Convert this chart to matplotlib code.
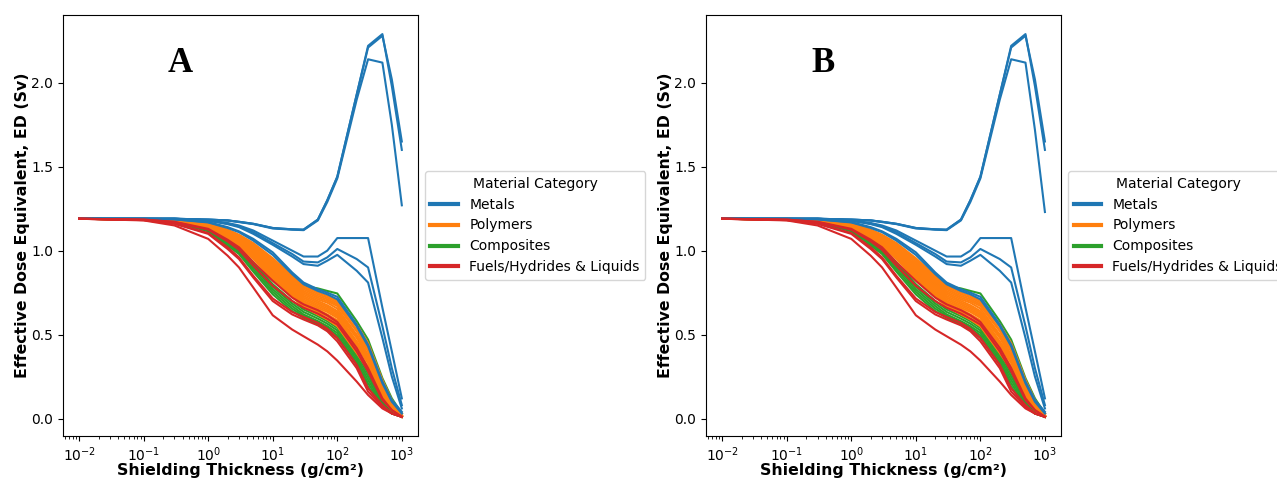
import matplotlib
matplotlib.use("Agg")
import matplotlib.pyplot as plt
from matplotlib.lines import Line2D

# shielding thickness grid (g/cm2)
thickness = [0.01, 0.1, 0.3, 1, 2, 3, 5, 10, 20, 30, 50, 70, 100, 200, 300, 500, 700, 1000]

# effective dose (Sv) per material
metals = [
    [1.19, 1.19, 1.19, 1.185, 1.18, 1.172, 1.16, 1.135, 1.127, 1.125, 1.185, 1.30, 1.44, 1.93, 2.21, 2.28, 2.02, 1.65],
    [1.19, 1.19, 1.19, 1.185, 1.18, 1.172, 1.16, 1.135, 1.127, 1.125, 1.185, 1.30, 1.44, 1.93, 2.22, 2.29, 1.98, 1.60],
    [1.19, 1.19, 1.19, 1.185, 1.18, 1.17, 1.158, 1.132, 1.125, 1.122, 1.18, 1.29, 1.43, 1.90, 2.14, 2.12, 1.75, 1.27],
    [1.19, 1.19, 1.19, 1.18, 1.165, 1.15, 1.12, 1.06, 1.0, 0.965, 0.965, 1.0, 1.075, 1.075, 1.075, 0.66, 0.40, 0.12],
    [1.19, 1.19, 1.19, 1.18, 1.16, 1.145, 1.11, 1.045, 0.98, 0.935, 0.93, 0.96, 1.01, 0.95, 0.90, 0.55, 0.30, 0.08],
    [1.19, 1.19, 1.19, 1.178, 1.158, 1.14, 1.10, 1.035, 0.965, 0.92, 0.91, 0.94, 0.975, 0.88, 0.81, 0.48, 0.25, 0.06],
    [1.19, 1.19, 1.187, 1.17, 1.14, 1.115, 1.07, 0.99, 0.87, 0.81, 0.77, 0.75, 0.725, 0.56, 0.44, 0.22, 0.11, 0.04],
    [1.19, 1.19, 1.186, 1.168, 1.135, 1.11, 1.06, 0.975, 0.86, 0.80, 0.76, 0.74, 0.71, 0.55, 0.43, 0.21, 0.10, 0.03],
]
# panel B differs only in the third metal curve after the peak
metal_peak_b = [1.19, 1.19, 1.19, 1.185, 1.18, 1.17, 1.158, 1.132, 1.125, 1.122, 1.18, 1.29, 1.43, 1.90, 2.14, 2.12, 1.72, 1.23]

polymers = [
    [1.19, 1.188, 1.185, 1.165, 1.125, 1.095, 1.045, 0.955, 0.85, 0.79, 0.75, 0.73, 0.70, 0.56, 0.45, 0.23, 0.11, 0.03],
    [1.19, 1.188, 1.184, 1.162, 1.12, 1.09, 1.035, 0.945, 0.84, 0.78, 0.74, 0.72, 0.69, 0.55, 0.44, 0.22, 0.10, 0.03],
    [1.19, 1.188, 1.183, 1.16, 1.115, 1.085, 1.03, 0.935, 0.83, 0.77, 0.73, 0.71, 0.68, 0.53, 0.42, 0.21, 0.10, 0.02],
    [1.19, 1.187, 1.182, 1.158, 1.11, 1.08, 1.02, 0.925, 0.82, 0.76, 0.72, 0.70, 0.67, 0.52, 0.41, 0.20, 0.09, 0.02],
    [1.19, 1.187, 1.181, 1.155, 1.105, 1.075, 1.01, 0.915, 0.81, 0.75, 0.71, 0.69, 0.655, 0.50, 0.40, 0.19, 0.09, 0.02],
    [1.19, 1.187, 1.18, 1.153, 1.10, 1.07, 1.005, 0.905, 0.80, 0.74, 0.70, 0.675, 0.64, 0.49, 0.38, 0.18, 0.08, 0.02],
    [1.19, 1.186, 1.179, 1.15, 1.095, 1.065, 0.995, 0.895, 0.79, 0.73, 0.69, 0.665, 0.63, 0.48, 0.37, 0.17, 0.08, 0.02],
    [1.19, 1.186, 1.178, 1.148, 1.09, 1.06, 0.99, 0.885, 0.78, 0.72, 0.68, 0.655, 0.62, 0.46, 0.36, 0.16, 0.07, 0.015],
    [1.19, 1.186, 1.177, 1.146, 1.088, 1.055, 0.98, 0.875, 0.77, 0.71, 0.67, 0.645, 0.61, 0.45, 0.35, 0.16, 0.07, 0.015],
    [1.19, 1.185, 1.176, 1.144, 1.085, 1.05, 0.975, 0.865, 0.76, 0.70, 0.66, 0.635, 0.60, 0.44, 0.34, 0.15, 0.07, 0.015],
    [1.19, 1.185, 1.175, 1.142, 1.08, 1.045, 0.97, 0.855, 0.75, 0.69, 0.65, 0.62, 0.585, 0.43, 0.33, 0.14, 0.06, 0.01],
    [1.19, 1.185, 1.174, 1.14, 1.078, 1.04, 0.96, 0.845, 0.74, 0.68, 0.635, 0.61, 0.57, 0.41, 0.31, 0.13, 0.06, 0.01],
    [1.19, 1.185, 1.173, 1.138, 1.075, 1.035, 0.955, 0.835, 0.73, 0.67, 0.625, 0.595, 0.555, 0.40, 0.30, 0.12, 0.05, 0.01],
    [1.19, 1.185, 1.172, 1.136, 1.07, 1.03, 0.95, 0.83, 0.725, 0.665, 0.62, 0.59, 0.55, 0.39, 0.29, 0.12, 0.05, 0.01],
]

composites = [
    [1.19, 1.187, 1.18, 1.15, 1.09, 1.05, 0.98, 0.87, 0.80, 0.79, 0.775, 0.76, 0.745, 0.58, 0.47, 0.24, 0.12, 0.03],
    [1.19, 1.186, 1.176, 1.135, 1.065, 1.02, 0.93, 0.80, 0.70, 0.65, 0.61, 0.58, 0.54, 0.38, 0.27, 0.11, 0.05, 0.01],
    [1.19, 1.186, 1.175, 1.13, 1.06, 1.01, 0.92, 0.785, 0.685, 0.635, 0.595, 0.565, 0.525, 0.365, 0.25, 0.10, 0.04, 0.01],
    [1.19, 1.185, 1.174, 1.125, 1.05, 1.0, 0.905, 0.77, 0.67, 0.62, 0.58, 0.55, 0.51, 0.35, 0.23, 0.09, 0.04, 0.01],
    [1.19, 1.185, 1.172, 1.12, 1.04, 0.99, 0.89, 0.755, 0.655, 0.61, 0.57, 0.54, 0.495, 0.335, 0.21, 0.08, 0.03, 0.01],
    [1.19, 1.185, 1.17, 1.115, 1.03, 0.98, 0.875, 0.74, 0.64, 0.60, 0.56, 0.525, 0.48, 0.32, 0.19, 0.07, 0.03, 0.01],
]

fuels = [
    [1.19, 1.18, 1.15, 1.07, 0.97, 0.90, 0.78, 0.615, 0.53, 0.49, 0.44, 0.40, 0.345, 0.22, 0.14, 0.06, 0.03, 0.01],
    [1.19, 1.182, 1.16, 1.10, 1.01, 0.95, 0.84, 0.70, 0.62, 0.59, 0.555, 0.52, 0.46, 0.30, 0.16, 0.07, 0.03, 0.01],
    [1.19, 1.182, 1.162, 1.105, 1.02, 0.96, 0.85, 0.715, 0.635, 0.605, 0.57, 0.535, 0.48, 0.32, 0.18, 0.08, 0.03, 0.01],
    [1.19, 1.185, 1.17, 1.125, 1.055, 1.005, 0.91, 0.79, 0.70, 0.66, 0.625, 0.595, 0.56, 0.40, 0.28, 0.11, 0.05, 0.01],
    [1.19, 1.185, 1.172, 1.13, 1.065, 1.02, 0.93, 0.82, 0.72, 0.68, 0.645, 0.615, 0.575, 0.42, 0.30, 0.12, 0.05, 0.01],
]

categories = ["Metals", "Polymers", "Composites", "Fuels/Hydrides & Liquids"]
colors = ["#1f77b4", "#ff7f0e", "#2ca02c", "#d62728"]


def draw_panel(ax, metal_curves, letter):
    # composites underneath, then polymers, metals and fuels on top
    for y in composites:
        ax.plot(thickness, y, color=colors[2], lw=1.5)
    for y in polymers:
        ax.plot(thickness, y, color=colors[1], lw=1.5)
    for y in metal_curves:
        ax.plot(thickness, y, color=colors[0], lw=1.5)
    for y in fuels:
        ax.plot(thickness, y, color=colors[3], lw=1.5)

    ax.set_xscale("log")
    ax.set_xlabel("Shielding Thickness (g/cm²)", fontsize=11.3, fontweight="bold", labelpad=-1)
    ax.set_ylabel("Effective Dose Equivalent, ED (Sv)", fontsize=11.3, fontweight="bold", labelpad=1)
    ax.tick_params(labelsize=10)

    handles = [Line2D([], [], color=c, lw=3) for c in colors]
    ax.legend(handles, categories, title="Material Category", fontsize=10,
              title_fontsize=10, loc="center left", bbox_to_anchor=(1, 0.5))

    ax.text(0.33, 0.885, letter, transform=ax.transAxes, ha="center", va="center",
            fontsize=25, fontweight="bold", family="Liberation Serif")


fig = plt.figure(figsize=(12.77, 4.79), dpi=100)
ax1 = fig.add_axes([0.0493, 0.0898, 0.278, 0.879])
ax2 = fig.add_axes([0.5529, 0.0898, 0.278, 0.879])

draw_panel(ax1, metals, "A")
metals_b = metals[:2] + [metal_peak_b] + metals[3:]
draw_panel(ax2, metals_b, "B")

fig.savefig("out.png", dpi=100)
